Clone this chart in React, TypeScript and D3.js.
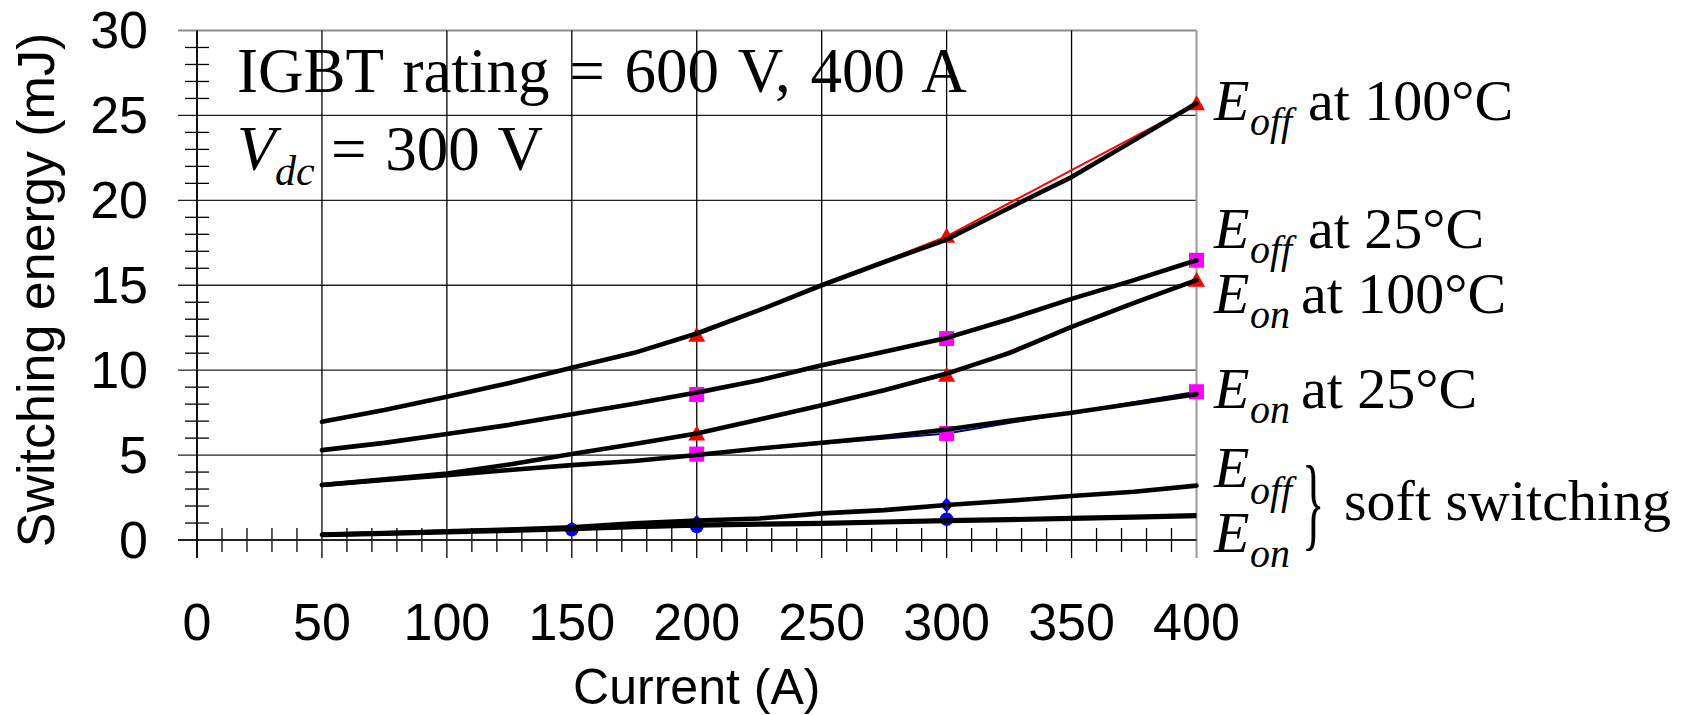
import React from "react";
import * as d3 from "d3";

// ---- data ----
const currents = [50, 75, 100, 125, 150, 175, 200, 225, 250, 275, 300, 325, 350, 375, 400];
const eoff100 = [6.96, 7.65, 8.43, 9.25, 10.14, 11.02, 12.16, 13.53, 15.0, 16.37, 17.69, 19.55, 21.37, 23.53, 25.72];
const eoff25 = [5.29, 5.72, 6.24, 6.78, 7.41, 8.02, 8.69, 9.41, 10.29, 11.08, 11.9, 13.0, 14.2, 15.3, 16.47];
const eon100 = [3.24, 3.57, 3.92, 4.45, 5.06, 5.65, 6.27, 7.1, 7.94, 8.82, 9.8, 11.0, 12.55, 13.96, 15.3];
const eon25 = [3.24, 3.53, 3.82, 4.12, 4.41, 4.65, 5.0, 5.39, 5.73, 6.08, 6.51, 7.02, 7.49, 8.04, 8.59];
const eoffSoft = [0.31, 0.4, 0.51, 0.62, 0.75, 0.98, 1.15, 1.27, 1.57, 1.76, 2.06, 2.31, 2.59, 2.84, 3.2];
const eonSoft = [0.31, 0.39, 0.47, 0.57, 0.67, 0.78, 0.88, 0.93, 0.98, 1.06, 1.14, 1.2, 1.27, 1.35, 1.43];

const markI = [200, 300, 400];
const mEoff100 = [12.06, 17.88, 25.68];
const mEoff25 = [8.57, 11.86, 16.47];
const mEon100 = [6.24, 9.7, 15.3];
const mEon25 = [5.06, 6.27, 8.73];
const softI = [150, 200, 300];
const mEoffSoft = [0.66, 1.05, 2.06];
const mEonSoft = [0.6, 0.8, 1.22];

const xTicks = [0, 50, 100, 150, 200, 250, 300, 350, 400];
const yTicks = [0, 5, 10, 15, 20, 25, 30];

const W = 1683;
const H = 715;

export default function App() {
  const x = d3.scaleLinear().domain([0, 400]).range([197, 1196.5]);
  const y = d3.scaleLinear().domain([0, 30]).range([540, 30.5]);
  const line = d3
    .line<[number, number]>()
    .x((d) => x(d[0]))
    .y((d) => y(d[1]));
  const pts = (xs: number[], ys: number[]) => xs.map((v, i) => [v, ys[i]] as [number, number]);

  const minorX = d3.range(10, 400, 10).filter((v) => v % 50 !== 0);
  const minorY = d3.range(1, 30, 1).filter((v) => v % 5 !== 0);
  const x0 = x(0);
  const y0 = y(0);
  const xR = x(400);
  const yT = y(30);

  const tri = (cx: number, cy: number, key: string) => (
    <path key={key} d={`M${cx},${cy - 8.5} L${cx + 8.5},${cy + 6.5} L${cx - 8.5},${cy + 6.5} Z`} fill="#ff0000" />
  );
  const sq = (cx: number, cy: number, key: string) => (
    <rect key={key} x={cx - 7.5} y={cy - 7.5} width={15} height={15} fill="#ff00ff" />
  );
  const dia = (cx: number, cy: number, key: string) => (
    <path key={key} d={`M${cx},${cy - 7.5} L${cx + 6.5},${cy} L${cx},${cy + 7.5} L${cx - 6.5},${cy} Z`} fill="#0000ff" />
  );
  const circ = (cx: number, cy: number, key: string) => <circle key={key} cx={cx} cy={cy} r={6.8} fill="#0000ff" />;

  const serif = "'Liberation Serif', 'Times New Roman', serif";
  const sans = "'Liberation Sans', Arial, sans-serif";

  const rightLabel = (yBase: number, sub: string, rest: string, restX: number, key: string) => (
    <g key={key} fontFamily={serif} fill="#000">
      <text x={1214} y={yBase} fontSize={58} fontStyle="italic">E</text>
      <text x={1250} y={yBase + 15} fontSize={40} fontStyle="italic">{sub}</text>
      <text x={restX} y={yBase} fontSize={58}>{rest}</text>
    </g>
  );

  return (
    <svg
      width={W}
      height={H}
      viewBox={`0 0 ${W} ${H}`}
      style={{ position: "absolute", left: 0, top: 0, background: "#fff" }}
    >
      <rect x={0} y={0} width={W} height={H} fill="#fff" />
      {/* horizontal grid */}
      {yTicks.filter((v) => v > 0 && v < 30).map((v) => (
        <line key={"hg" + v} x1={178} x2={xR} y1={y(v)} y2={y(v)} stroke="#222" strokeWidth={1.3} />
      ))}
      <line x1={178} x2={xR} y1={yT} y2={yT} stroke="#8c8c8c" strokeWidth={2} />
      {/* vertical grid */}
      {xTicks.filter((v) => v > 0 && v < 400).map((v) => (
        <line key={"vg" + v} x1={x(v)} x2={x(v)} y1={yT} y2={558} stroke="#000" strokeWidth={1.3} />
      ))}
      <line x1={xR} x2={xR} y1={yT} y2={558} stroke="#9a9a9a" strokeWidth={2} />
      {/* minor ticks */}
      {minorX.map((v) => (
        <line key={"mx" + v} x1={x(v)} x2={x(v)} y1={y0 - 12} y2={y0 + 12} stroke="#000" strokeWidth={1.3} />
      ))}
      {minorY.map((v) => (
        <line key={"my" + v} x1={x0 - 12} x2={x0 + 12} y1={y(v)} y2={y(v)} stroke="#000" strokeWidth={1.3} />
      ))}
      {/* axes */}
      <line x1={178} x2={xR} y1={y0} y2={y0} stroke="#222" strokeWidth={2} />
      <line x1={x0} x2={x0} y1={yT} y2={558} stroke="#111" strokeWidth={2} />

      {/* tick labels */}
      {xTicks.map((v) => (
        <text key={"xl" + v} x={x(v)} y={640} fontFamily={sans} fontSize={52} textAnchor="middle" fill="#000">
          {v}
        </text>
      ))}
      {yTicks.map((v) => (
        <text key={"yl" + v} x={148} y={y(v) + 17.5} fontFamily={sans} fontSize={52} textAnchor="end" fill="#000">
          {v}
        </text>
      ))}
      <text x={(x0 + xR) / 2} y={704} fontFamily={sans} fontSize={50} textAnchor="middle" fill="#000">
        Current (A)
      </text>
      <text transform={`translate(54, 290) rotate(-90)`} fontFamily={sans} fontSize={52} textAnchor="middle" fill="#000">
        Switching energy (mJ)
      </text>

      {/* colored connecting lines */}
      <path d={line(pts(markI, mEoff100)) || ""} fill="none" stroke="#ff0000" strokeWidth={2} />
      <path d={line(pts(markI, mEoff25)) || ""} fill="none" stroke="#ff00ff" strokeWidth={2} />
      <path d={line(pts(markI, mEon100)) || ""} fill="none" stroke="#ff0000" strokeWidth={2} />
      <path d={line(pts(markI, mEon25)) || ""} fill="none" stroke="#000080" strokeWidth={2} />
      <path d={line(pts(softI, mEoffSoft)) || ""} fill="none" stroke="#0000ff" strokeWidth={1.5} />
      <path d={line(pts(softI, mEonSoft)) || ""} fill="none" stroke="#0000ff" strokeWidth={1.5} />

      {/* markers */}
      {markI.map((v, i) => tri(x(v), y(mEoff100[i]), "t1" + i))}
      {markI.map((v, i) => sq(x(v), y(mEoff25[i]), "s1" + i))}
      {markI.map((v, i) => tri(x(v), y(mEon100[i]), "t2" + i))}
      {markI.map((v, i) => sq(x(v), y(mEon25[i]), "s2" + i))}
      {softI.map((v, i) => dia(x(v), y(mEoffSoft[i]), "d" + i))}
      {softI.map((v, i) => circ(x(v), y(mEonSoft[i]), "c" + i))}

      {/* black measured curves */}
      {[eoff100, eoff25, eon100, eon25, eoffSoft].map((s, k) => (
        <path
          key={"bk" + k}
          d={line(pts(currents, s)) || ""}
          fill="none"
          stroke="#000"
          strokeWidth={4.6}
          strokeLinejoin="round"
          strokeLinecap="round"
        />
      ))}
      <path d={line(pts(currents, eonSoft)) || ""} fill="none" stroke="#000" strokeWidth={5.2} strokeLinejoin="round" />

      {/* annotations */}
      <text x={237} y={92} fontFamily={serif} fontSize={63} wordSpacing={4} fill="#000">
        IGBT rating = 600 V, 400 A
      </text>
      <text x={237} y={170} fontFamily={serif} fontSize={63} fontStyle="italic" fill="#000">V</text>
      <text x={275} y={185} fontFamily={serif} fontSize={42} fontStyle="italic" fill="#000">dc</text>
      <text x={331} y={170} fontFamily={serif} fontSize={63} wordSpacing={3} fill="#000">= 300 V</text>

      {rightLabel(120, "off", "at 100°C", 1308, "r1")}
      {rightLabel(248, "off", "at 25°C", 1308, "r2")}
      {rightLabel(313, "on", "at 100°C", 1301, "r3")}
      {rightLabel(408, "on", "at 25°C", 1301, "r4")}
      <g fontFamily={serif} fill="#000">
        <text x={1214} y={487} fontSize={58} fontStyle="italic">E</text>
        <text x={1250} y={504} fontSize={40} fontStyle="italic">off</text>
        <text x={1214} y={552} fontSize={58} fontStyle="italic">E</text>
        <text x={1250} y={567} fontSize={40} fontStyle="italic">on</text>
        <text transform="translate(1302, 537) scale(0.45, 1)" fontSize={104}>{"}"}</text>
        <text x={1344} y={520} fontSize={58}>soft switching</text>
      </g>
    </svg>
  );
}
